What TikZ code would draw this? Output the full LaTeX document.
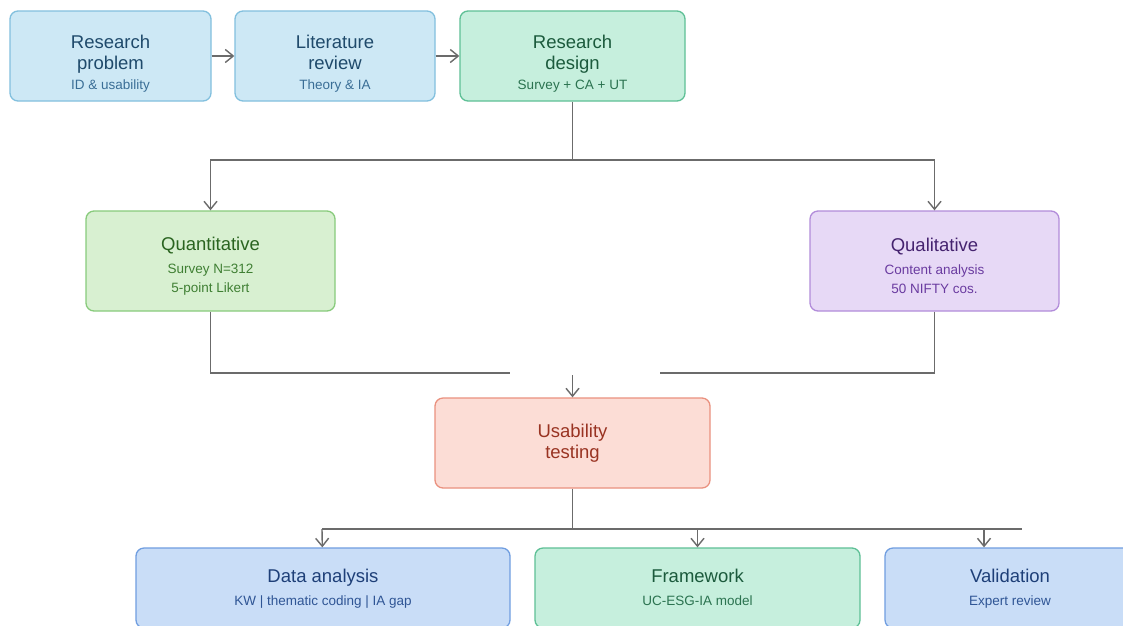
\documentclass[tikz,border=0pt]{standalone}
\usepackage{fontspec}
\setmainfont{Liberation Sans}
\usetikzlibrary{arrows.meta, positioning}
\definecolor{linegray}{HTML}{6B6B6B}
\definecolor{skyfill}{HTML}{CDE8F5}
\definecolor{skyline}{HTML}{82C0DE}
\definecolor{skytitle}{HTML}{1F4A6B}
\definecolor{skysub}{HTML}{3A6E96}
\definecolor{mintfill}{HTML}{C6EFDD}
\definecolor{mintline}{HTML}{5EC096}
\definecolor{minttitle}{HTML}{1B5A3C}
\definecolor{mintsub}{HTML}{2B7350}
\definecolor{leaffill}{HTML}{D8F0D1}
\definecolor{leafline}{HTML}{88CB7C}
\definecolor{leaftitle}{HTML}{2A6420}
\definecolor{leafsub}{HTML}{3F7F33}
\definecolor{lilacfill}{HTML}{E7D9F6}
\definecolor{lilacline}{HTML}{B28CDA}
\definecolor{lilactitle}{HTML}{45236F}
\definecolor{lilacsub}{HTML}{6A3BA0}
\definecolor{coralfill}{HTML}{FCDDD6}
\definecolor{coralline}{HTML}{EA917F}
\definecolor{coraltitle}{HTML}{993322}
\definecolor{bluefill}{HTML}{C9DDF7}
\definecolor{blueline}{HTML}{709EE0}
\definecolor{bluetitle}{HTML}{1E3F78}
\definecolor{bluesub}{HTML}{2F5595}
\newcommand{\ttl}[1]{{\fontsize{18.5}{22}\selectfont #1}}
\newcommand{\subl}[2]{{\color{#1}#2}}
\newcommand{\padtop}[1]{\rule{0pt}{#1}}
\tikzset{
  box/.style={rectangle, draw, rounded corners=8pt, align=center, line width=1.3pt,
    minimum height=90pt, inner sep=3pt, font=\fontsize{13.5}{19}\selectfont},
  skybox/.style={box, fill=skyfill, draw=skyline, text=skytitle},
  mintbox/.style={box, fill=mintfill, draw=mintline, text=minttitle},
  leafbox/.style={box, fill=leaffill, draw=leafline, text=leaftitle},
  lilacbox/.style={box, fill=lilacfill, draw=lilacline, text=lilactitle},
  coralbox/.style={box, fill=coralfill, draw=coralline, text=coraltitle},
  bluebox/.style={box, fill=bluefill, draw=blueline, text=bluetitle},
  link/.style={draw=linegray, line width=1.4pt},
  line/.style={link, -{Straight Barb[length=8pt, width=13pt, line width=1.4pt]}}
}

\begin{document}
\begin{tikzpicture}[x=1pt, y=-1pt]
    \useasboundingbox[fill=white] (0,0) rectangle (1123,625);
    % top row
    \node[skybox, minimum width=201pt] (problem) at (110.5,56)
      {\padtop{28pt}\ttl{Research}\\[2pt]\ttl{problem}\\[1pt]\subl{skysub}{ID \& usability}};
    \node[skybox, minimum width=200pt] (review) at (335,56)
      {\padtop{28pt}\ttl{Literature}\\[2pt]\ttl{review}\\[1pt]\subl{skysub}{Theory \& IA}};
    \node[mintbox, minimum width=225pt] (design) at (572.5,56)
      {\padtop{28pt}\ttl{Research}\\[2pt]\ttl{design}\\[1pt]\subl{mintsub}{Survey + CA + UT}};
    % methods
    \node[leafbox, minimum width=249pt, minimum height=100pt] (quant) at (210.5,261)
      {\padtop{24pt}\ttl{Quantitative}\\[4pt]\subl{leafsub}{Survey N=312}\\\subl{leafsub}{5-point Likert}};
    \node[lilacbox, minimum width=249pt, minimum height=100pt] (qual) at (934.5,261)
      {\padtop{24pt}\ttl{Qualitative}\\[4pt]\subl{lilacsub}{Content analysis}\\\subl{lilacsub}{50 NIFTY cos.}};
    \node[coralbox, minimum width=275pt] (usab) at (572.5,443)
      {\ttl{Usability}\\[2pt]\ttl{testing}};
    % outputs
    \node[bluebox, minimum width=374pt, minimum height=80pt] (analysis) at (323,588)
      {\padtop{14pt}\ttl{Data analysis}\\[4pt]\subl{bluesub}{KW | thematic coding | IA gap}};
    \node[mintbox, minimum width=325pt, minimum height=80pt] (frame) at (697.5,588)
      {\padtop{14pt}\ttl{Framework}\\[4pt]\subl{mintsub}{UC-ESG-IA model\vphantom{gy}}};
    \node[bluebox, minimum width=250pt, minimum height=80pt] (valid) at (1010,588)
      {\padtop{14pt}\ttl{Validation}\\[4pt]\subl{bluesub}{Expert review}};
    % junction points
    \coordinate (split1) at (572.5,160);
    \coordinate (joinL) at (510,373);
    \coordinate (joinR) at (660,373);
    \coordinate (joinC) at (572.5,375);
    \coordinate (split2) at (572.5,529);
    \coordinate (tapA) at (322,529);
    \coordinate (tapB) at (697.5,529);
    \coordinate (tapC) at (984,529);
    \coordinate (tapEnd) at (1022,529);
    % connectors
    \draw[line] (problem) -- (review);
    \draw[line] (review) -- (design);
    \draw[link] (design) -- (split1);
    \draw[line] (split1) -| (quant);
    \draw[line] (split1) -| (qual);
    \draw[link] (quant) |- (joinL);
    \draw[link] (qual) |- (joinR);
    \draw[line] (joinC) -- (usab);
    \draw[link] (usab) -- (split2);
    \draw[link] (tapA) -- (tapEnd);
    \draw[line] (tapA) -- (analysis);
    \draw[line] (tapB) -- (frame);
    \draw[line] (tapC) -- (tapC |- valid.north);
  \end{tikzpicture}
\end{document}
